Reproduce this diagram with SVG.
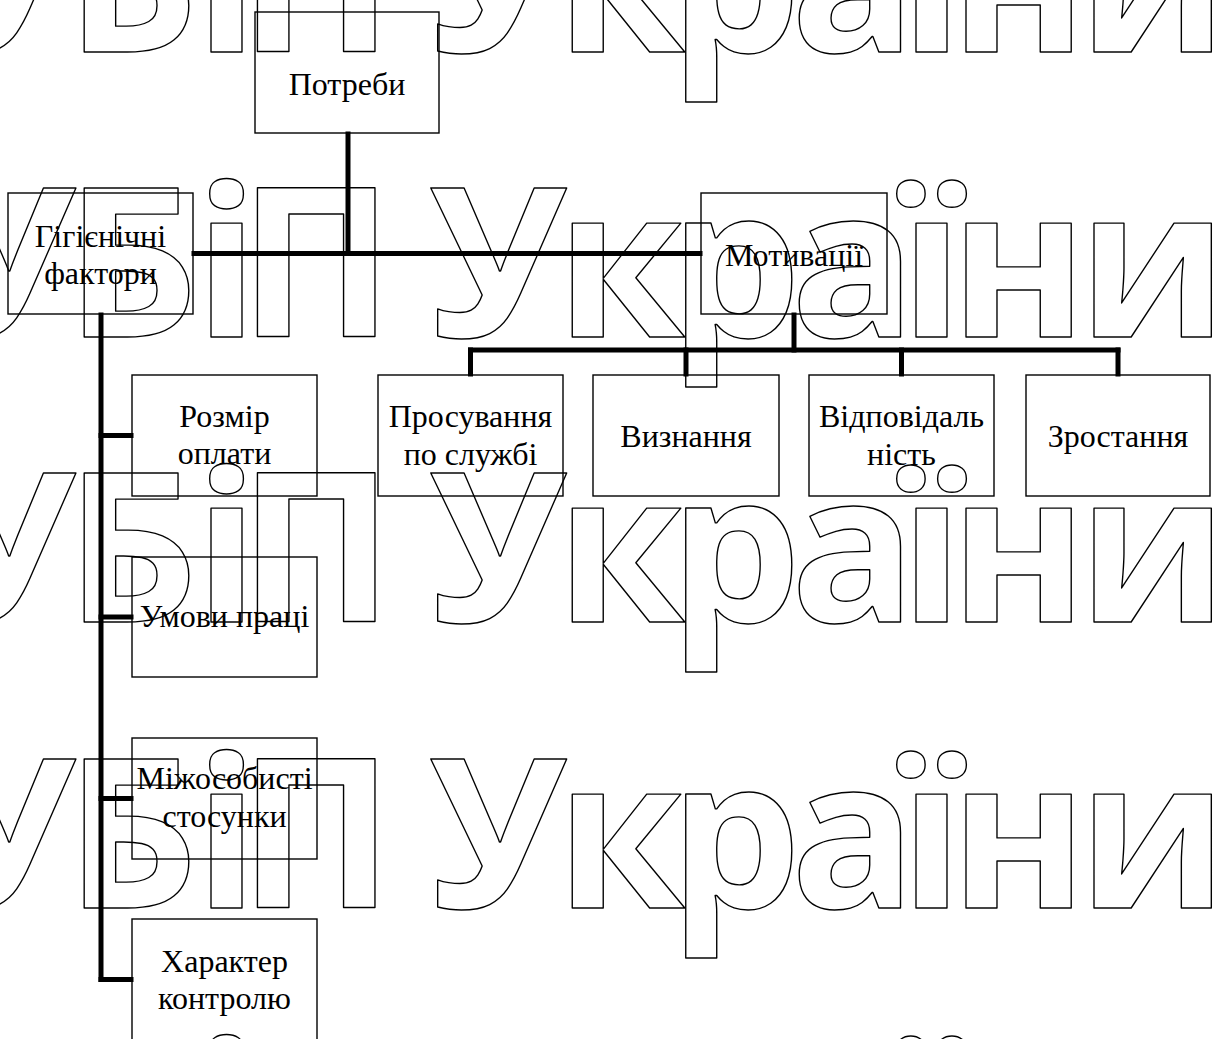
<svg xmlns="http://www.w3.org/2000/svg" width="1215" height="1039" viewBox="0 0 1215 1039">
<style>
.wm{font-family:"Open Sans","DejaVu Sans",sans-serif;font-weight:700;font-size:208px;letter-spacing:-10.5px;fill:none;stroke:#000;stroke-width:1.4;stroke-linejoin:round}
.box{fill:none;stroke:#000;stroke-width:1.4}
.lbl{font-family:"Liberation Serif","Times New Roman",serif;font-size:32px;fill:#000;text-anchor:middle}
.con{fill:none;stroke:#000;stroke-width:5;stroke-linecap:square}
</style>
<rect width="1215" height="1039" fill="#fff"/>
<g id="watermark">
<text class="wm" x="-62" y="52" dx="0 0 7 -9 0 2 0 -5 0 -6 -3 1">УБіП України</text>
<text class="wm" x="-62" y="337" dx="0 0 7 -9 0 2 0 -5 0 -6 -3 1">УБіП України</text>
<text class="wm" x="-62" y="622" dx="0 0 7 -9 0 2 0 -5 0 -6 -3 1">УБіП України</text>
<text class="wm" x="-62" y="908" dx="0 0 7 -9 0 2 0 -5 0 -6 -3 1">УБіП України</text>
<text class="wm" x="-62" y="1193" dx="0 0 7 -9 0 2 0 -5 0 -6 -3 1">УБіП України</text>
</g>
<g id="connectors">
<path class="con" d="M348,134 V253"/>
<path class="con" d="M194,253.5 H700"/>
<path class="con" d="M794,315 V350"/>
<path class="con" d="M470.5,350 H1118"/>
<path class="con" d="M470.5,350 V374"/>
<path class="con" d="M686,350 V374"/>
<path class="con" d="M901.5,350 V374"/>
<path class="con" d="M1118,350 V374"/>
<path class="con" d="M101,315 V979.5"/>
<path class="con" d="M101,435.5 H131"/>
<path class="con" d="M101,617 H131"/>
<path class="con" d="M101,798.5 H131"/>
<path class="con" d="M101,979.5 H131"/>
</g>
<g id="potreby"><rect class="box" x="255" y="12" width="184" height="121"/><text class="lbl" x="347" y="95">Потреби</text></g>
<g id="hihiienichni"><rect class="box" x="8" y="193" width="185" height="121"/><text class="lbl" x="100.5" y="247">Гігієнічні</text><text class="lbl" x="100.5" y="284">фактори</text></g>
<g id="motyvatsii"><rect class="box" x="701" y="193" width="186" height="121"/><text class="lbl" x="794" y="266">Мотивації</text></g>
<g id="rozmir"><rect class="box" x="132" y="375" width="185" height="121"/><text class="lbl" x="224.5" y="427">Розмір</text><text class="lbl" x="224.5" y="464">оплати</text></g>
<g id="umovy"><rect class="box" x="132" y="557" width="185" height="120"/><text class="lbl" x="224.5" y="627">Умови праці</text></g>
<g id="mizhosobysti"><rect class="box" x="132" y="738" width="185" height="121"/><text class="lbl" x="224.5" y="789">Міжособисті</text><text class="lbl" x="224.5" y="827">стосунки</text></g>
<g id="kharakter"><rect class="box" x="132" y="919" width="185" height="121"/><text class="lbl" x="224.5" y="972">Характер</text><text class="lbl" x="224.5" y="1009">контролю</text></g>
<g id="prosuvannia"><rect class="box" x="378" y="375" width="185" height="121"/><text class="lbl" x="470.5" y="427">Просування</text><text class="lbl" x="470.5" y="465">по службі</text></g>
<g id="vyznannia"><rect class="box" x="593" y="375" width="186" height="121"/><text class="lbl" x="686" y="447">Визнання</text></g>
<g id="vidpovidalnist"><rect class="box" x="809" y="375" width="185" height="121"/><text class="lbl" x="901.5" y="427">Відповідаль</text><text class="lbl" x="901.5" y="465">ність</text></g>
<g id="zrostannia"><rect class="box" x="1026" y="375" width="184" height="121"/><text class="lbl" x="1118" y="447">Зростання</text></g>
</svg>
